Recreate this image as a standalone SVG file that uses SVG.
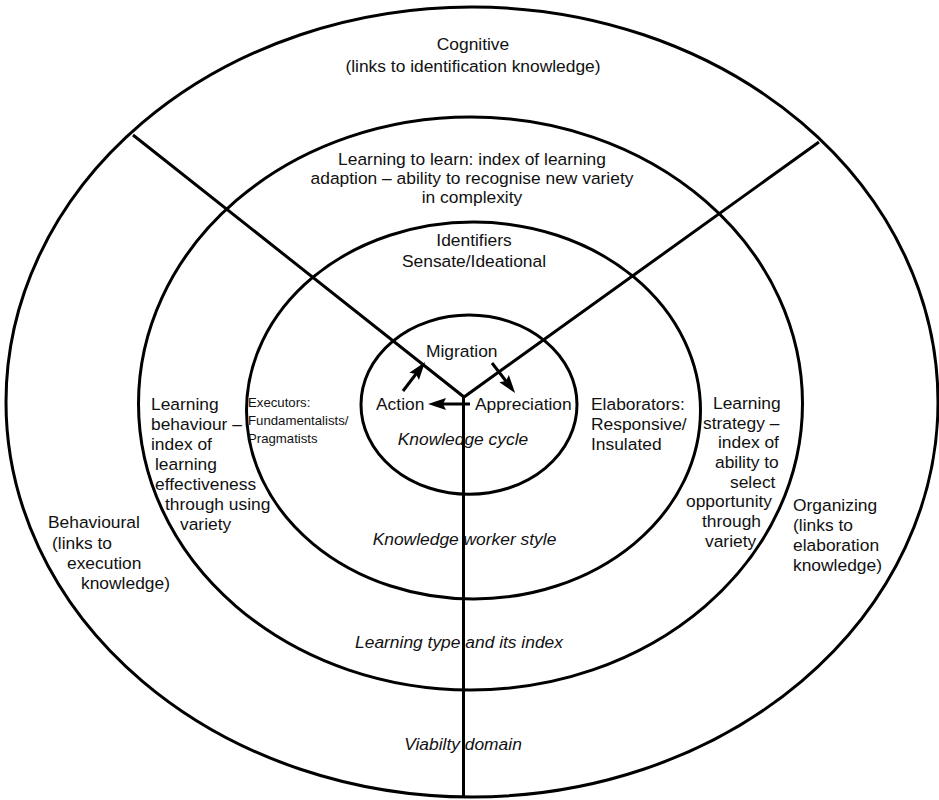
<svg xmlns="http://www.w3.org/2000/svg" width="939" height="800" viewBox="0 0 939 800">
<style>
.ring{fill:none;stroke:#000;stroke-width:3}
.t{font-family:"Liberation Sans",Arial,Helvetica,sans-serif;font-size:17.4px;fill:#111}
.s{font-family:"Liberation Sans",Arial,Helvetica,sans-serif;font-size:13.2px;fill:#111}
.i{font-style:italic}
.c{text-anchor:middle}
.ln{fill:none;stroke:#000;stroke-width:3}
.ar{fill:none;stroke:#000;stroke-width:3;marker-end:url(#ah)}
</style>
<defs>
<marker id="ah" markerUnits="userSpaceOnUse" markerWidth="20" markerHeight="14" viewBox="0 0 20 14" refX="8" refY="7" orient="auto">
<path d="M0,1 L18,7 L0,13 L3,7 Z" fill="#000"/>
</marker>
</defs>
<rect width="939" height="800" fill="#fff"/>

<g id="viability-domain">
<ellipse class="ring" cx="472" cy="402" rx="466" ry="395"/>
<text class="t c" x="473" y="50">Cognitive</text>
<text class="t c" x="473" y="72">(links to identification knowledge)</text>
<text class="t" x="48" y="528">Behavioural</text>
<text class="t" x="52" y="549">(links to</text>
<text class="t" x="67" y="569">execution</text>
<text class="t" x="81" y="589">knowledge)</text>
<text class="t" x="793" y="511">Organizing</text>
<text class="t" x="793" y="531">(links to</text>
<text class="t" x="793" y="551">elaboration</text>
<text class="t" x="793" y="571">knowledge)</text>
<text class="t i c" x="463" y="750">Viabilty domain</text>
</g>

<g id="learning-type">
<ellipse class="ring" cx="470.5" cy="403.5" rx="332" ry="286.5"/>
<text class="t c" x="472" y="165">Learning to learn: index of learning</text>
<text class="t c" x="472" y="184">adaption – ability to recognise new variety</text>
<text class="t c" x="472" y="203">in complexity</text>
<text class="t" x="151" y="410">Learning</text>
<text class="t" x="151" y="430">behaviour –</text>
<text class="t" x="151" y="450">index of</text>
<text class="t" x="155" y="470">learning</text>
<text class="t" x="155" y="490">effectiveness</text>
<text class="t" x="165" y="510">through using</text>
<text class="t" x="180" y="530">variety</text>
<text class="t" x="713" y="409">Learning</text>
<text class="t" x="703" y="429">strategy –</text>
<text class="t" x="718" y="448">index of</text>
<text class="t" x="715" y="468">ability to</text>
<text class="t" x="730" y="488">select</text>
<text class="t" x="686" y="507">opportunity</text>
<text class="t" x="702" y="527">through</text>
<text class="t" x="705" y="547">variety</text>
<text class="t i c" x="459" y="648">Learning type and its index</text>
</g>

<g id="knowledge-worker-style">
<ellipse class="ring" cx="473.5" cy="410.5" rx="227" ry="188.5"/>
<text class="t c" x="474" y="246">Identifiers</text>
<text class="t c" x="474" y="267">Sensate/Ideational</text>
<text class="s" x="248" y="407">Executors:</text>
<text class="s" x="248" y="425">Fundamentalists/</text>
<text class="s" x="248" y="443">Pragmatists</text>
<text class="t" x="591" y="410">Elaborators:</text>
<text class="t" x="591" y="430">Responsive/</text>
<text class="t" x="591" y="450">Insulated</text>
<text class="t i c" x="464.5" y="545">Knowledge worker style</text>
</g>

<g id="knowledge-cycle">
<ellipse class="ring" cx="469" cy="404.7" rx="108" ry="89.6"/>
<text class="t" x="426" y="357">Migration</text>
<text class="t" x="376" y="410">Action</text>
<text class="t" x="475" y="410">Appreciation</text>
<text class="t i c" x="463" y="445">Knowledge cycle</text>
</g>

<g id="connectors">
<polyline class="ln" points="133,135 464,397 819,142"/>
<line class="ln" x1="463.5" y1="397" x2="463.5" y2="797"/>
<line class="ar" x1="470" y1="404" x2="438" y2="404"/>
<line class="ar" x1="403" y1="391" x2="419" y2="370"/>
<line class="ar" x1="492" y1="363" x2="509" y2="385"/>
</g>
</svg>
